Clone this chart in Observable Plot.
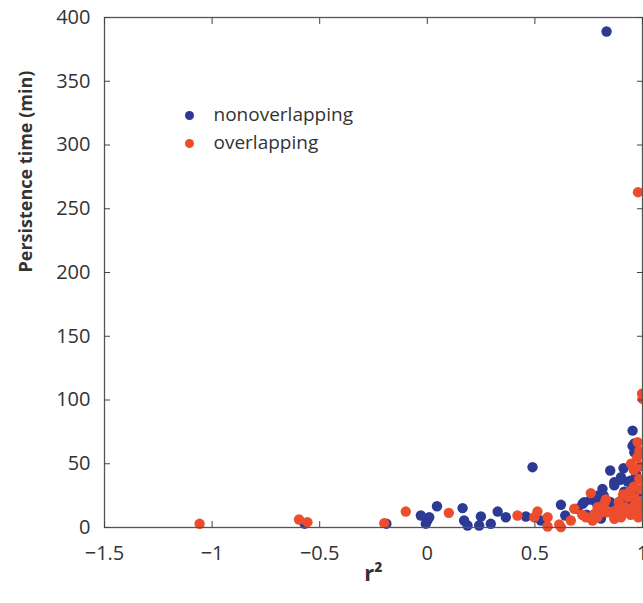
<!DOCTYPE html>
<html><head><meta charset="utf-8">
<script src="https://cdn.jsdelivr.net/npm/d3@7"></script>
<script src="https://cdn.jsdelivr.net/npm/@observablehq/plot@0.6"></script>
<style>body{margin:0;background:#fff}</style>
</head><body><div id="chart"></div>
<script>
const seriesNames = ["nonoverlapping", "overlapping"];
const seriesColors = ["#2c3a96", "#ee4d2d"];
const xTicks = [-1.5, -1, -0.5, 0, 0.5, 1];
const yTicks = [0, 50, 100, 150, 200, 250, 300, 350, 400];

const nonoverlappingR2 = [-0.57,-0.19,-0.03,-0.007,0.009,0.0,0.045,0.164,0.171,0.187,0.241,0.249,0.295,0.327,0.365,0.458,0.489,0.528,0.621,0.641,0.698,0.722,0.729,0.784,0.807,0.814,0.833,0.85,0.869,0.869,0.897,0.9,0.9,0.912,0.931,0.947,0.954,0.954,0.954,0.962,0.962,0.76,0.79,0.85,0.88,0.93,0.97,0.985,0.74,0.82,0.915];
const nonoverlappingTime = [3,3,9.4,3,8,5.5,16.7,15.2,5.5,1.6,1.6,8.6,2.9,12.5,8,8.6,47.3,5.5,17.8,9.4,14.7,18.6,19.9,19.9,7,30.3,389,44.7,33,35.5,37.4,39.5,21,46.5,36,37,33,76,64,59,66,22,25,20,15,18,42,28,10,25,28];

const overlappingR2 = [-1.058,-0.596,-0.557,-0.2,-0.1,0.1,0.419,0.497,0.512,0.559,0.559,0.613,0.621,0.667,0.683,0.737,0.76,0.768,0.776,0.791,0.822,0.838,0.853,0.869,0.869,0.9,0.9,0.931,0.962,0.947,0.977,0.979,1.0,0.998,0.96,0.975,0.985,0.99,0.995,1.0,0.97,0.98,0.95,0.94,0.92,0.91,0.89,0.88,0.96,0.99,0.985,0.965,0.945,0.83,0.81,0.79,0.72];
const overlappingTime = [2.9,6.3,4.2,3.4,12.5,11.5,9.4,8,12.5,8,0.8,2.4,0.3,5.5,14.7,8,27,5.5,10.7,16,18.6,12,12,6.8,12,8,10.7,23.8,23.8,50,67,263,101,105,45,55,38,30,20,15,12,8,15,28,16,26,20,14,32,48,60,18,10,22,12,8,10];

const points = [
  ...nonoverlappingR2.map((r, i) => ({r2: r, time: nonoverlappingTime[i], series: seriesNames[0]})),
  ...overlappingR2.map((r, i) => ({r2: r, time: overlappingTime[i], series: seriesNames[1]}))
];

const fmt = d3.format("");
const blank = () => "";
const legendMarks = seriesNames.flatMap((name, i) => [
  Plot.dot([name], {frameAnchor: "top-left", dx: 85, dy: 98 + i * 28, fill: seriesColors[i], r: 4.5}),
  Plot.text([name], {frameAnchor: "top-left", lineAnchor: "middle", dx: 109, dy: 97 + i * 28, textAnchor: "start", fill: "#333", fontSize: 19})
]);

const chart = Plot.plot({
  width: 643,
  height: 603,
  marginLeft: 104,
  marginRight: 1,
  marginTop: 17,
  marginBottom: 76,
  style: {fontFamily: "'Open Sans', sans-serif", fontSize: "20px", color: "#333", background: "#fff"},
  x: {domain: [-1.5, 1]},
  y: {domain: [0, 400]},
  color: {domain: seriesNames, range: seriesColors},
  marks: [
    Plot.dot(points, {x: "r2", y: "time", fill: "series", r: 5.2}),
    Plot.frame({stroke: "#555", strokeWidth: 1.3}),
    Plot.axisX({anchor: "bottom", ticks: xTicks, tickSize: -6, tickPadding: 24, tickFormat: fmt, label: null, stroke: "#444", fill: "#333", fontSize: 20}),
    Plot.axisX({anchor: "top", ticks: xTicks, tickSize: -6, tickFormat: blank, label: null, stroke: "#444"}),
    Plot.axisY({anchor: "left", ticks: yTicks, tickSize: -6, tickPadding: 20, tickFormat: fmt, label: null, stroke: "#444", fill: "#333", fontSize: 20}),
    Plot.axisY({anchor: "right", ticks: yTicks, tickSize: -6, tickFormat: blank, label: null, stroke: "#444"}),
    Plot.text(["r²"], {frameAnchor: "bottom", lineAnchor: "middle", dy: 46, fontWeight: "bold", fontSize: 22, fill: "#333"}),
    Plot.text(["Persistence time (min)"], {frameAnchor: "left", dx: -78, rotate: -90, fontWeight: "bold", fontSize: 18, fill: "#333"}),
    ...legendMarks
  ]
});
document.getElementById("chart").append(chart);
</script>
</body></html>
